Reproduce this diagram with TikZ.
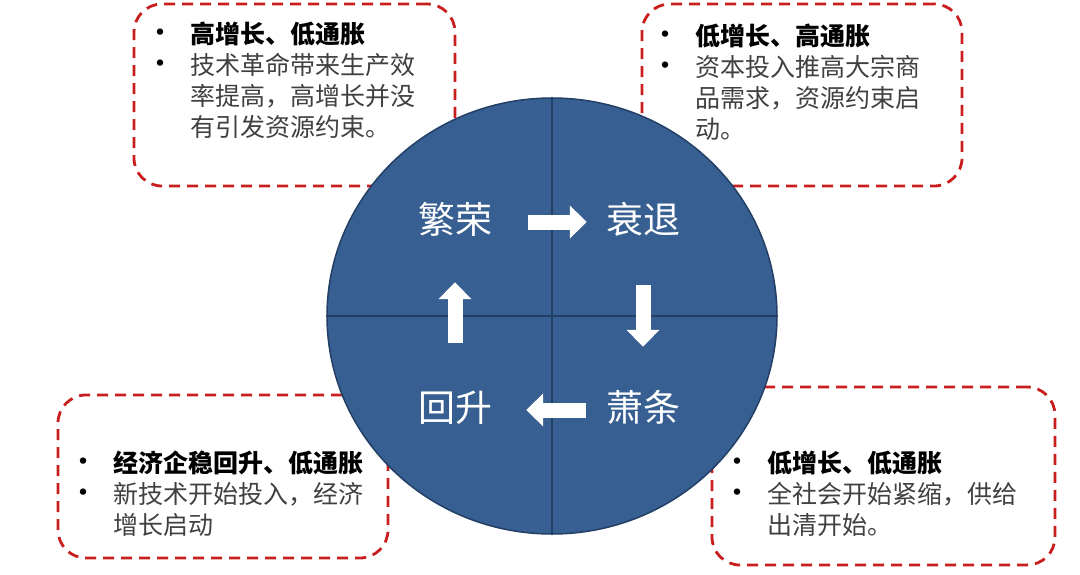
\documentclass[tikz,border=0pt]{standalone}
\usepackage{fontspec}
\setmainfont{Noto Sans CJK SC}
\usetikzlibrary{arrows.meta,shapes.geometric}
\usepackage{xcolor}
\definecolor{wheelblue}{HTML}{375F91}
\definecolor{wheeledge}{HTML}{243F66}
\definecolor{dashred}{HTML}{C81E1E}
\definecolor{bodygray}{HTML}{404040}

\newcommand{\bul}{\makebox[30pt][c]{\color{black}\fontsize{30}{31}\selectfont\textbullet}\hspace{15pt}}
\newcommand{\ind}{\hspace*{45pt}}

\begin{document}
\begin{tikzpicture}[
              x=1pt,
              y=-1pt,
              font=\fontsize{25}{31}\selectfont,
              casebox/.style={draw=dashred, line width=2.8pt, dash pattern=on 11pt off 7pt, rounded corners=28pt},
              note/.style={anchor=north west, inner sep=0pt, align=left, text=bodygray},
              wheel/.style={ellipse, draw=wheeledge, line width=1.5pt, fill=wheelblue, minimum width=450pt, minimum height=436pt, inner sep=0pt},
              phase/.style={text=white, inner sep=0pt, font=\fontsize{37}{37}\selectfont, text height=29pt, text depth=7pt},
              turn/.style={-{Triangle[length=17pt,width=32pt]}, line width=15pt, white}
            ]
            \useasboundingbox (0,0) rectangle (1080,574);

            \node[casebox, minimum width=321pt, minimum height=182pt] (boombox) at (294.5,95) {};
            \node[casebox, minimum width=320pt, minimum height=182pt] (slumpbox) at (802,95) {};
            \node[casebox, minimum width=330pt, minimum height=163pt] (revivebox) at (223,476.5) {};
            \node[casebox, minimum width=343pt, minimum height=178pt] (gloombox) at (883.5,476) {};

            \node[note] (boomnote) at (145,22) {
              \bul{\bfseries\color{black}高增长、低通胀}\\
              \bul 技术革命带来生产效\\
              \ind 率提高，高增长并没\\
              \ind 有引发资源约束。
            };
            \node[note] (slumpnote) at (650,24) {
              \bul{\bfseries\color{black}低增长、高通胀}\\
              \bul 资本投入推高大宗商\\
              \ind 品需求，资源约束启\\
              \ind 动。
            };
            \node[note] (revivenote) at (68,451) {
              \bul{\bfseries\color{black}经济企稳回升、低通胀}\\
              \bul 新技术开始投入，经济\\
              \ind 增长启动
            };
            \node[note] (gloomnote) at (722,451) {
              \bul{\bfseries\color{black}低增长、低通胀}\\
              \bul 全社会开始紧缩，供给\\
              \ind 出清开始。
            };

            \node[wheel] (wheel) at (552,316) {};
            \draw[wheeledge, line width=1.5pt] (wheel.north) -- (wheel.south);
            \draw[wheeledge, line width=1.5pt] (wheel.west) -- (wheel.east);

            \node[phase] (boom) at (455,222) {繁荣};
            \node[phase] (slump) at (643,222) {衰退};
            \node[phase] (gloom) at (643,410) {萧条};
            \node[phase] (revive) at (455,410) {回升};

            \draw[turn, shorten <=36pt, shorten >=19pt] (boom.east) -- (slump.west);
            \draw[turn, shorten <=45pt, shorten >=45pt] (slump.south) -- (gloom.north);
            \draw[turn, shorten <=20pt, shorten >=34pt] (gloom.west) -- (revive.east);
            \draw[turn, shorten <=49pt, shorten >=42pt] (revive.north) -- (boom.south);
            \end{tikzpicture}
\end{document}
